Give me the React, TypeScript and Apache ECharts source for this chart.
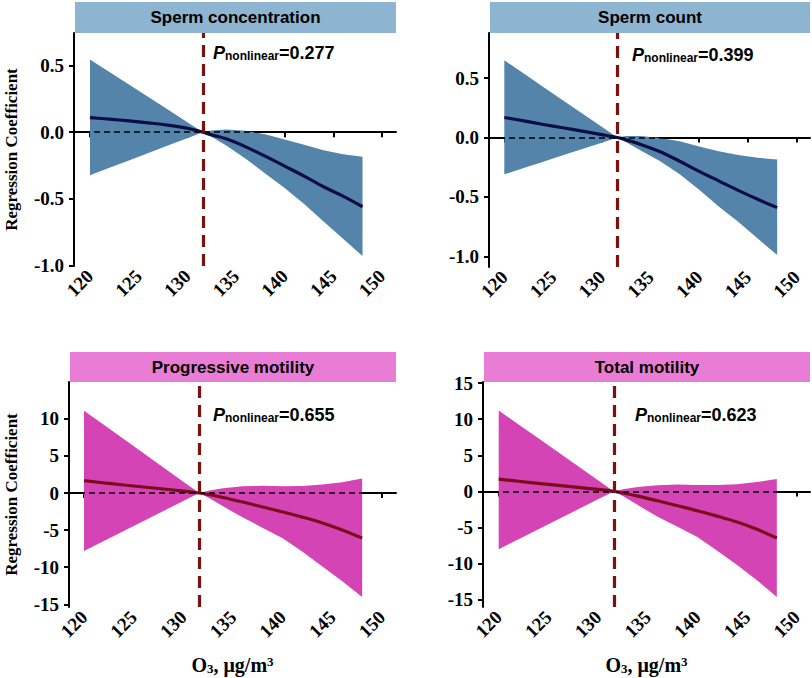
import React, { useEffect, useRef } from 'react';
import * as echarts from 'echarts';

// ---- data ----
const panelTitles = ['Sperm concentration', 'Sperm count', 'Progressive motility', 'Total motility'];
const pValues = ['0.277', '0.399', '0.655', '0.623'];
const refX = 131.6;
const xGrid = [120, 122, 124, 126, 128, 130, 131.6, 132.5, 134, 136, 138, 140, 142, 144, 146, 148];
const xTicks = [120, 125, 130, 135, 140, 145, 150];

const concFit = [0.11, 0.098, 0.085, 0.07, 0.053, 0.03, 0, -0.02, -0.05, -0.11, -0.18, -0.255, -0.33, -0.41, -0.48, -0.56];
const concUpper = [0.546, 0.452, 0.358, 0.264, 0.17, 0.075, 0, 0.012, 0.02, 0.01, -0.015, -0.055, -0.095, -0.135, -0.165, -0.185];
const concLower = [-0.323, -0.267, -0.212, -0.156, -0.1, -0.045, 0, -0.035, -0.1, -0.2, -0.31, -0.42, -0.54, -0.67, -0.8, -0.93];

const countFit = [0.169, 0.14, 0.11, 0.082, 0.054, 0.025, 0, -0.02, -0.058, -0.12, -0.2, -0.285, -0.365, -0.445, -0.52, -0.59];
const countUpper = [0.65, 0.538, 0.426, 0.314, 0.202, 0.09, 0, 0.012, 0.012, -0.005, -0.032, -0.075, -0.115, -0.148, -0.17, -0.186];
const countLower = [-0.31, -0.257, -0.203, -0.15, -0.096, -0.043, 0, -0.04, -0.11, -0.2, -0.31, -0.44, -0.58, -0.71, -0.85, -0.99];

const progFit = [1.67, 1.37, 1.08, 0.81, 0.54, 0.26, 0, -0.2, -0.6, -1.22, -1.88, -2.55, -3.25, -4.03, -4.98, -6.08];
const progUpper = [11.1, 9.19, 7.27, 5.36, 3.44, 1.53, 0, 0.3, 0.63, 0.9, 0.97, 0.9, 0.95, 1.15, 1.45, 1.95];
const progLower = [-7.8, -6.46, -5.11, -3.77, -2.42, -1.08, 0, -0.6, -1.8, -3.3, -4.7, -6.1, -7.9, -9.9, -11.9, -14.0];

const totFit = [1.7, 1.4, 1.1, 0.83, 0.55, 0.27, 0, -0.22, -0.65, -1.3, -1.98, -2.67, -3.42, -4.25, -5.25, -6.46];
const totUpper = [11.2, 9.27, 7.34, 5.41, 3.48, 1.54, 0, 0.3, 0.6, 0.85, 0.95, 0.9, 0.9, 1.0, 1.3, 1.7];
const totLower = [-8.0, -6.62, -5.24, -3.86, -2.48, -1.1, 0, -0.65, -1.9, -3.5, -4.9, -6.3, -8.2, -10.2, -12.3, -14.6];

const yTicksTop = [-1, -0.5, 0, 0.5];
const yTicksProg = [-15, -10, -5, 0, 5, 10];
const yTicksTot = [-15, -10, -5, 0, 5, 10, 15];

const yAxisTitle = 'Regression Coefficient';

// ---- styling / layout ----
const SERIF = 'Liberation Serif, Times New Roman, serif';
const SANS = 'Liberation Sans, Arial, sans-serif';
const blueScheme = { strip: '#8DB4D1', band: '#5484AA', line: '#0C0C46' };
const pinkScheme = { strip: '#E97DD6', band: '#D444B4', line: '#7C0C1C' };

const tickRich = { t: { fontFamily: SERIF, fontWeight: 'bold', fontSize: 19, color: '#000' } };

const panels = [
  { fit: concFit, upper: concUpper, lower: concLower, xr: [118.36, 151.44], yr: [-1.005, 0.745], yTicks: yTicksTop, digits: 1, yName: true, xName: false, scheme: blueScheme,
    grid: { left: 74, top: 33, width: 322, height: 233 }, strip: [75, 2, 321, 31], p: [213, 51], yGap: 54 },
  { fit: countFit, upper: countUpper, lower: countLower, xr: [118.43, 151.37], yr: [-1.09, 0.88], yTicks: yTicksTop, digits: 1, yName: false, xName: false, scheme: blueScheme,
    grid: { left: 489, top: 33, width: 321, height: 234 }, strip: [490, 2, 320, 31], p: [632, 53], yGap: 54 },
  { fit: progFit, upper: progUpper, lower: progLower, xr: [118.49, 151.41], yr: [-15.36, 14.96], yTicks: yTicksProg, digits: 0, yName: true, xName: true, scheme: pinkScheme,
    grid: { left: 69, top: 382, width: 327, height: 225 }, strip: [70, 352, 326, 30], p: [213, 413], yGap: 49 },
  { fit: totFit, upper: totUpper, lower: totLower, xr: [118.42, 151.34], yr: [-16.0, 15.14], yTicks: yTicksTot, digits: 0, yName: false, xName: true, scheme: pinkScheme,
    grid: { left: 483, top: 382, width: 327, height: 225 }, strip: [484, 352, 326, 30], p: [635, 413], yGap: 49 },
];

function buildOption() {
  const grid: any[] = [];
  const xAxis: any[] = [];
  const yAxis: any[] = [];
  const series: any[] = [];
  const graphic: any[] = [];

  panels.forEach((pn, i) => {
    grid.push({ ...pn.grid, containLabel: false, outerBoundsMode: 'none' });
    xAxis.push({
      gridIndex: i,
      type: 'value',
      min: pn.xr[0],
      max: pn.xr[1],
      axisLine: { show: true, lineStyle: { color: '#000', width: 2 } },
      axisTick: { show: true, length: 5, lineStyle: { color: '#000', width: 2 }, customValues: xTicks },
      axisLabel: {
        customValues: xTicks,
        rotate: 45,
        margin: 7,
        fontFamily: SERIF,
        fontWeight: 'bold',
        fontSize: 19,
        color: '#000',
        formatter: (v: number) => `{t|${String(v)}}`,
        rich: tickRich,
      },
      splitLine: { show: false },
      name: pn.xName ? '{a|O}{b|3}{a|, μg/m}{c|3}' : '',
      nameLocation: 'middle',
      nameGap: 48,
      nameTextStyle: {
        rich: {
          a: { fontFamily: SERIF, fontWeight: 'bold', fontSize: 20, color: '#000', lineHeight: 20, verticalAlign: 'middle' },
          b: { fontFamily: SERIF, fontWeight: 'bold', fontSize: 13, color: '#000', lineHeight: 8, verticalAlign: 'bottom' },
          c: { fontFamily: SERIF, fontWeight: 'bold', fontSize: 13, color: '#000', lineHeight: 6, verticalAlign: 'top' },
        },
      },
    });
    yAxis.push({
      gridIndex: i,
      type: 'value',
      min: pn.yr[0],
      max: pn.yr[1],
      axisLine: { show: true, lineStyle: { color: '#000', width: 2 } },
      axisTick: { show: true, length: 5, lineStyle: { color: '#000', width: 2 }, customValues: pn.yTicks },
      axisLabel: {
        customValues: pn.yTicks,
        margin: 10,
        fontFamily: SERIF,
        fontWeight: 'bold',
        fontSize: 19,
        color: '#000',
        formatter: (v: number) => `{t|${v.toFixed(pn.digits)}}`,
        rich: tickRich,
      },
      splitLine: { show: false },
      name: pn.yName ? yAxisTitle : '',
      nameLocation: 'middle',
      nameRotate: 90,
      nameGap: pn.yGap,
      nameTextStyle: { fontFamily: SERIF, fontWeight: 'bold', fontSize: 17, color: '#000' },
    });

    const upper = pn.upper;
    const lower = pn.lower;
    const bandColor = pn.scheme.band;
    series.push({
      type: 'custom',
      xAxisIndex: i,
      yAxisIndex: i,
      data: xGrid.map((x, k) => [x, lower[k], upper[k]]),
      encode: { x: 0, y: [1, 2] },
      clip: true,
      z: 1,
      silent: true,
      renderItem: (params: any, api: any) => {
        if (params.dataIndex !== 0) return null;
        const top = xGrid.map((x, k) => api.coord([x, upper[k]]));
        const bot = xGrid.map((x, k) => api.coord([x, lower[k]])).reverse();
        return { type: 'polygon', shape: { points: top.concat(bot) }, style: { fill: bandColor } };
      },
    });
    series.push({
      type: 'line',
      xAxisIndex: i,
      yAxisIndex: i,
      data: xGrid.map((x, k) => [x, pn.fit[k]]),
      smooth: 0.35,
      showSymbol: false,
      symbol: 'none',
      lineStyle: { color: pn.scheme.line, width: 3.2 },
      z: 3,
      silent: true,
    });
    series.push({
      type: 'line',
      xAxisIndex: i,
      yAxisIndex: i,
      data: [],
      z: 4,
      silent: true,
      markLine: {
        silent: true,
        symbol: ['none', 'none'],
        label: { show: false },
        data: [
          { yAxis: 0, lineStyle: { color: '#000', type: [6, 4], width: 1.5 } },
          { xAxis: refX, lineStyle: { color: '#7B1212', type: [12, 7], width: 3.2 } },
        ],
      },
    });

    const [sx, sy, sw, sh] = pn.strip;
    graphic.push({
      type: 'rect',
      shape: { x: sx, y: sy, width: sw, height: sh },
      style: { fill: pn.scheme.strip },
      z: 10,
    });
    graphic.push({
      type: 'text',
      x: sx + sw / 2,
      y: sy + sh / 2,
      style: {
        text: panelTitles[i],
        fill: '#000',
        font: `bold 17px ${SANS}`,
        align: 'center',
        verticalAlign: 'middle',
      },
      z: 11,
    });
    graphic.push({
      type: 'text',
      x: pn.p[0],
      y: pn.p[1],
      style: {
        text: `{p|P}{s|nonlinear}{v|=${pValues[i]}}`,
        align: 'left',
        verticalAlign: 'middle',
        rich: {
          p: { fontFamily: SANS, fontWeight: 'bold', fontStyle: 'italic', fontSize: 18, fill: '#000', lineHeight: 22, verticalAlign: 'bottom' },
          s: { fontFamily: SANS, fontWeight: 'bold', fontSize: 12, fill: '#000', lineHeight: 10, verticalAlign: 'bottom' },
          v: { fontFamily: SANS, fontWeight: 'bold', fontSize: 18, fill: '#000', lineHeight: 22, verticalAlign: 'bottom' },
        },
      },
      z: 11,
    });
  });

  return { animation: false, backgroundColor: '#fff', textStyle: { fontFamily: SERIF }, grid, xAxis, yAxis, series, graphic };
}

export default function App() {
  const ref = useRef<HTMLDivElement>(null);
  useEffect(() => {
    if (!ref.current) return;
    const chart = echarts.init(ref.current, undefined, { renderer: 'svg' });
    chart.setOption(buildOption() as any);
    return () => chart.dispose();
  }, []);
  return (
    <div
      ref={ref}
      style={{ position: 'fixed', left: 0, top: 0, width: 812, height: 678, background: '#fff' }}
    />
  );
}
